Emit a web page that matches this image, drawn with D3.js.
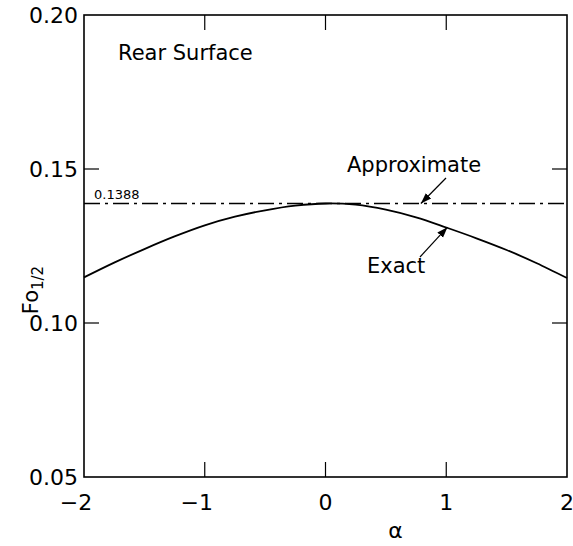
<!DOCTYPE html>
<html>
<head>
<meta charset="utf-8">
<script src="https://cdn.jsdelivr.net/npm/d3@7"></script>
<style>
  body { margin: 0; background: #fff; }
  svg { font-family: "DejaVu Sans", "Noto Sans", sans-serif; }
</style>
</head>
<body>
<svg id="chart" width="573" height="546"></svg>
<script>
const alphaVals = [-2, -1.75, -1.5, -1.25, -1, -0.75, -0.5, -0.25, 0, 0.25, 0.5, 0.75, 1, 1.25, 1.5, 1.75, 2];
const exactVals = [0.1148, 0.1196, 0.1240, 0.1281, 0.1317, 0.1345, 0.1366, 0.1381, 0.1388, 0.1384, 0.1368, 0.1343, 0.1310, 0.1275, 0.1237, 0.1194, 0.1146];
const approxVal = 0.1388;
const xTicks = [-2, -1, 0, 1, 2];
const yTicks = [0.05, 0.10, 0.15, 0.20];

const svg = d3.select('#chart');
const area = { left: 84, right: 567, top: 15, bottom: 477 };

const x = d3.scaleLinear().domain([-2, 2]).range([area.left, area.right]);
const y = d3.scaleLinear().domain([0.05, 0.20]).range([area.bottom, area.top]);

// frame
svg.append('rect')
  .attr('x', area.left)
  .attr('y', area.top)
  .attr('width', area.right - area.left)
  .attr('height', area.bottom - area.top)
  .attr('fill', 'none')
  .attr('stroke', '#000')
  .attr('stroke-width', 1.6);

// inward ticks on all four sides
const tickLen = 15;
svg.append('g')
  .selectAll('line')
  .data(xTicks.slice(1, -1))
  .enter().append('line')
  .attr('x1', d => x(d)).attr('x2', d => x(d))
  .attr('y1', area.bottom).attr('y2', area.bottom - tickLen)
  .attr('stroke', '#000').attr('stroke-width', 1.2);
svg.append('g')
  .selectAll('line')
  .data(xTicks.slice(1, -1))
  .enter().append('line')
  .attr('x1', d => x(d)).attr('x2', d => x(d))
  .attr('y1', area.top).attr('y2', area.top + tickLen)
  .attr('stroke', '#000').attr('stroke-width', 1.2);
svg.append('g')
  .selectAll('line')
  .data(yTicks.slice(1, -1))
  .enter().append('line')
  .attr('x1', area.left).attr('x2', area.left + tickLen)
  .attr('y1', d => y(d)).attr('y2', d => y(d))
  .attr('stroke', '#000').attr('stroke-width', 1.2);
svg.append('g')
  .selectAll('line')
  .data(yTicks.slice(1, -1))
  .enter().append('line')
  .attr('x1', area.right).attr('x2', area.right - tickLen)
  .attr('y1', d => y(d)).attr('y2', d => y(d))
  .attr('stroke', '#000').attr('stroke-width', 1.2);

// tick labels
svg.append('g')
  .selectAll('text')
  .data(yTicks)
  .enter().append('text')
  .attr('x', area.left - 6)
  .attr('y', d => y(d) + 8)
  .attr('text-anchor', 'end')
  .style('font-size', '22px')
  .text(d => d.toFixed(2));
svg.append('g')
  .selectAll('text')
  .data(xTicks)
  .enter().append('text')
  .attr('x', d => x(d) - (d < 0 ? 8 : 0))
  .attr('y', 510)
  .attr('text-anchor', 'middle')
  .style('font-size', '22px')
  .text(d => d < 0 ? '\u2212' + Math.abs(d) : d);

// axis labels
svg.append('text')
  .attr('x', x(0.58))
  .attr('y', 538)
  .attr('text-anchor', 'middle')
  .style('font-size', '22px')
  .text('\u03b1');
const yl = svg.append('text')
  .attr('transform', 'translate(38,290) rotate(-90)')
  .attr('text-anchor', 'middle')
  .style('font-size', '21px');
yl.append('tspan').text('Fo');
yl.append('tspan').attr('dy', 5).style('font-size', '15px').text('1/2');

// approximate line
svg.append('line')
  .attr('x1', x(-2)).attr('x2', x(2))
  .attr('y1', y(approxVal)).attr('y2', y(approxVal))
  .attr('stroke', '#000')
  .attr('stroke-width', 1.4)
  .attr('stroke-dasharray', '16,5,3,5');

// exact curve
svg.append('path')
  .datum(alphaVals.map((a, i) => [a, exactVals[i]]))
  .attr('fill', 'none')
  .attr('stroke', '#000')
  .attr('stroke-width', 1.8)
  .attr('d', d3.line()
    .curve(d3.curveCatmullRom)
    .x(d => x(d[0]))
    .y(d => y(d[1])));

// annotations
svg.append('text')
  .attr('x', area.left + 10)
  .attr('y', y(approxVal) - 4)
  .style('font-size', '13px')
  .text(approxVal.toFixed(4));
svg.append('text')
  .attr('x', 118)
  .attr('y', 60)
  .style('font-size', '21px')
  .text('Rear Surface');
svg.append('text')
  .attr('x', 347)
  .attr('y', 172)
  .style('font-size', '21px')
  .text('Approximate');
svg.append('text')
  .attr('x', 367)
  .attr('y', 273)
  .style('font-size', '21px')
  .text('Exact');

svg.append('defs').append('marker')
  .attr('id', 'arr')
  .attr('viewBox', '0 0 10 10')
  .attr('refX', 10).attr('refY', 5)
  .attr('markerWidth', 9).attr('markerHeight', 9)
  .attr('orient', 'auto')
  .append('path')
  .attr('d', 'M0,1.5 L10,5 L0,8.5 Z')
  .attr('fill', '#000');

const arrows = [
  { from: [446, 178], to: [x(0.79), y(approxVal)] },
  { from: [420, 257], to: [x(1.01), y(0.1308) - 1] }
];
svg.append('g')
  .selectAll('line')
  .data(arrows)
  .enter().append('line')
  .attr('x1', d => d.from[0]).attr('y1', d => d.from[1])
  .attr('x2', d => d.to[0]).attr('y2', d => d.to[1])
  .attr('stroke', '#000')
  .attr('stroke-width', 1.2)
  .attr('marker-end', 'url(#arr)');
</script>
</body>
</html>
